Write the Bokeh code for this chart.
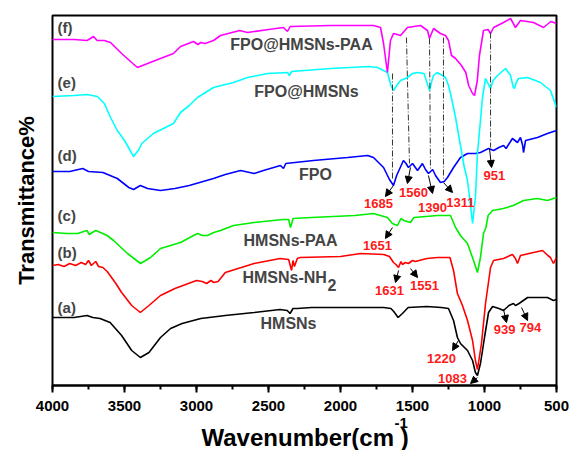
from bokeh.plotting import figure
from bokeh.models import Range1d, Label, Arrow, NormalHead, SingleIntervalTicker, FixedTicker, Title
from bokeh.embed import file_html
from bokeh.resources import INLINE

# ---- data: (wavenumber cm-1, offset transmittance) ----
curve_a = [(4000, 68), (3900, 68), (3850, 68), (3760, 70), (3720, 68), (3670, 67), (3600, 63), (3520, 50),
           (3450, 35), (3390, 28), (3330, 33), (3250, 48), (3180, 57), (3100, 62), (2970, 67), (2800, 70),
           (2600, 73), (2420, 76), (2370, 75), (2350, 72), (2330, 77), (2300, 77), (2200, 78), (1900, 78),
           (1700, 78), (1650, 77), (1630, 74), (1600, 68), (1570, 72), (1530, 78), (1400, 79), (1300, 78),
           (1250, 77), (1215, 65), (1188, 48), (1167, 42), (1118, 35), (1083, 25), (1063, 13), (1049, 10),
           (1028, 22), (1000, 48), (972, 73), (944, 79), (900, 77), (868, 75), (830, 80), (799, 82),
           (785, 80), (760, 82), (701, 88), (600, 88), (563, 88), (521, 85), (500, 86)]
curve_b = [(4000, 120), (3960, 121), (3920, 119), (3880, 122), (3840, 120), (3800, 123), (3770, 121),
           (3750, 125), (3730, 120), (3700, 124), (3680, 119), (3650, 118), (3620, 114), (3600, 110),
           (3560, 102), (3520, 93), (3450, 80), (3390, 73), (3330, 80), (3250, 90), (3150, 97), (3000, 105),
           (2960, 104), (2930, 102), (2900, 105), (2880, 103), (2850, 104), (2800, 113), (2600, 122),
           (2420, 127), (2360, 126), (2340, 115), (2330, 125), (2320, 119), (2300, 127), (2280, 128),
           (2000, 129), (1860, 132), (1700, 131), (1660, 129), (1632, 123), (1615, 121), (1597, 118),
           (1580, 124), (1570, 121), (1550, 123), (1528, 122), (1500, 125), (1480, 124), (1400, 127),
           (1326, 128), (1240, 128), (1215, 115), (1188, 92), (1153, 80), (1118, 65), (1083, 45), (1063, 25),
           (1049, 16), (1021, 42), (993, 82), (958, 118), (937, 125), (868, 127), (806, 131), (785, 127),
           (771, 122), (750, 130), (660, 133), (597, 135), (560, 130), (542, 128), (521, 122), (500, 128)]
curve_c = [(4000, 153), (3900, 152), (3826, 152), (3760, 155), (3745, 151), (3700, 155), (3667, 153),
           (3620, 150), (3576, 145), (3479, 132), (3389, 122), (3319, 128), (3250, 137), (3111, 143),
           (3020, 150), (2993, 152), (2960, 150), (2924, 150), (2880, 153), (2833, 155), (2743, 160),
           (2600, 163), (2400, 166), (2360, 166), (2347, 158), (2335, 164), (2330, 167), (2200, 168),
           (1900, 170), (1771, 172), (1674, 168), (1640, 162), (1604, 160), (1580, 167), (1560, 165),
           (1514, 163), (1490, 168), (1326, 170), (1236, 170), (1201, 158), (1167, 150), (1118, 142),
           (1076, 125), (1049, 113), (1028, 128), (1007, 152), (990, 158), (975, 170), (944, 175),
           (868, 177), (800, 180), (771, 182), (729, 185), (632, 187), (563, 185), (500, 188)]
curve_d = [(4000, 214), (3880, 214), (3790, 217), (3750, 214), (3650, 213), (3550, 207), (3470, 198),
           (3437, 196), (3390, 200), (3340, 197), (3250, 195), (3150, 197), (3050, 200), (2882, 207),
           (2800, 211), (2694, 215), (2600, 212), (2535, 215), (2417, 220), (2396, 217), (2380, 222),
           (2188, 225), (1951, 228), (1812, 230), (1771, 228), (1701, 218), (1660, 206), (1632, 200),
           (1610, 210), (1563, 225), (1545, 222), (1528, 218), (1500, 222), (1465, 215), (1431, 222),
           (1410, 216), (1389, 212), (1360, 216), (1340, 210), (1306, 203), (1280, 204), (1257, 208),
           (1215, 218), (1167, 228), (1118, 232), (1063, 232), (1028, 233), (972, 237), (937, 235),
           (900, 238), (868, 240), (850, 237), (806, 247), (771, 243), (750, 248), (735, 240), (729, 233),
           (715, 245), (632, 248), (563, 252), (500, 255)]
curve_e = [(4000, 289), (3850, 290), (3760, 291), (3688, 289), (3640, 282), (3597, 268), (3550, 255),
           (3500, 245), (3437, 229), (3400, 236), (3380, 242), (3300, 252), (3160, 262), (3111, 273),
           (3050, 280), (2993, 288), (2882, 298), (2743, 303), (2646, 308), (2507, 312), (2368, 313),
           (2355, 310), (2340, 314), (2069, 317), (1800, 319), (1743, 318), (1674, 313), (1650, 300),
           (1632, 295), (1600, 302), (1583, 305), (1535, 308), (1500, 312), (1465, 313), (1420, 312),
           (1400, 303), (1382, 295), (1365, 305), (1354, 310), (1330, 313), (1292, 310), (1271, 308),
           (1250, 300), (1236, 292), (1201, 268), (1167, 240), (1140, 218), (1118, 205), (1097, 180),
           (1083, 162), (1063, 188), (1049, 232), (1028, 265), (1014, 288), (993, 307), (975, 302),
           (958, 297), (940, 305), (910, 310), (854, 317), (819, 310), (800, 298), (792, 297), (780, 303),
           (764, 307), (701, 308), (611, 303), (542, 295), (500, 278)]
curve_f = [(4000, 346), (3850, 346), (3760, 345), (3715, 349), (3690, 345), (3640, 345), (3597, 343),
           (3520, 332), (3450, 323), (3410, 318), (3340, 322), (3250, 327), (3160, 332), (3111, 339),
           (3021, 344), (2990, 341), (2970, 343), (2940, 342), (2882, 345), (2833, 350), (2700, 355),
           (2646, 353), (2500, 356), (2396, 358), (2368, 354), (2350, 359), (2069, 360), (1771, 360),
           (1722, 358), (1701, 342), (1674, 313), (1653, 345), (1632, 352), (1583, 350), (1535, 358),
           (1444, 360), (1396, 355), (1382, 347), (1354, 357), (1306, 352), (1271, 350), (1250, 345),
           (1229, 330), (1201, 327), (1160, 320), (1130, 313), (1110, 300), (1083, 292), (1069, 290),
           (1050, 305), (1035, 330), (1007, 355), (975, 356), (958, 352), (937, 358), (868, 363),
           (819, 367), (800, 362), (785, 358), (750, 365), (660, 363), (590, 358), (540, 364), (500, 362)]

curves = [curve_a, curve_b, curve_c, curve_d, curve_e, curve_f]
colors = ["#000000", "#ff0000", "#00ee00", "#0000ff", "#00ffff", "#ff00ff"]
tags = ["(a)", "(b)", "(c)", "(d)", "(e)", "(f)"]
tag_y = [78, 133, 170, 230, 303, 358]
names = ["HMSNs", "HMSNs-NH", "HMSNs-PAA", "FPO", "FPO@HMSNs", "FPO@HMSNs-PAA"]
name_pos = [(2361, 62), (2681, 108), (2347, 145), (2174, 211), (2236, 294), (2271, 341)]

# peak labels: text, label position, arrow start, arrow end
peaks = [("1685", (1736, 182), (1632, 200), (1688, 189)),
         ("1560", (1493, 193), (1514, 218), (1535, 202)),
         ("1390", (1361, 178), (1389, 210), (1361, 192)),
         ("1311", (1167, 183), (1285, 203), (1222, 193)),
         ("951", (931, 210), (965, 237), (951, 218)),
         ("1651", (1743, 140), (1639, 158), (1688, 147)),
         ("1631", (1660, 95), (1597, 115), (1618, 103)),
         ("1551", (1417, 100), (1514, 117), (1465, 108)),
         ("1220", (1299, 27), (1181, 45), (1222, 35)),
         ("1083", (1222, 7), (1049, 8), (1097, 2)),
         ("939", (861, 56), (868, 76), (847, 63)),
         ("794", (681, 58), (743, 78), (701, 65))]
# dash-dot guide lines (x0, y0, x1, y1)
guides = [(1639, 312, 1639, 205), (1542, 348, 1521, 222), (1382, 347, 1375, 215),
          (1285, 348, 1285, 207), (958, 353, 958, 238)]

FONT = "Liberation Sans"

p = figure(width=569, height=450, x_range=Range1d(4000, 500), y_range=Range1d(0, 370),
           output_backend="svg", toolbar_location=None,
           min_border_left=52, min_border_right=13, min_border_top=15, min_border_bottom=65)
p.grid.visible = False
p.outline_line_color = "black"
p.outline_line_width = 2
p.background_fill_color = "white"
p.border_fill_color = "white"

ax = p.xaxis[0]
ax.ticker = SingleIntervalTicker(interval=500, num_minor_ticks=2)
ax.axis_line_width = 2
ax.major_tick_line_width = 2
ax.minor_tick_line_width = 2
ax.major_tick_in = 0
ax.major_tick_out = 7
ax.minor_tick_in = 0
ax.minor_tick_out = 4
ax.major_label_text_font = FONT
ax.major_label_text_font_style = "bold"
ax.major_label_text_font_size = "15px"
ax.major_label_text_color = "black"
ax.major_label_standoff = 8

ay = p.yaxis[0]
ay.ticker = FixedTicker(ticks=[])
ay.axis_line_color = None
ay.major_tick_line_color = None
ay.minor_tick_line_color = None
ay.axis_label = "Transmittance%"
ay.axis_label_text_font = FONT
ay.axis_label_text_font_style = "bold"
ay.axis_label_text_font_size = "22px"
ay.axis_label_text_color = "black"
ay.axis_label_standoff = 14

# x-axis title: superscript row and main row
p.add_layout(Title(text="-1", align="left", offset=342, standoff=4, text_font=FONT,
                   text_font_style="bold", text_font_size="15px", text_color="black"), "below")
p.add_layout(Title(text="Wavenumber(cm   )", align="left", offset=149, standoff=-16, text_font=FONT,
                   text_font_style="bold", text_font_size="24px", text_color="black"), "below")

for c, col in zip(curves, colors):
    p.line([w for w, v in c], [v for w, v in c], line_color=col, line_width=1.6)

for t, y in zip(tags, tag_y):
    p.add_layout(Label(x=3965, y=y, text=t, text_font=FONT, text_font_style="bold",
                       text_font_size="15px", text_align="left", text_baseline="middle"))

for n, (x, y) in zip(names, name_pos):
    align = "left" if n == "HMSNs-NH" else "center"
    p.add_layout(Label(x=x, y=y, text=n, text_font=FONT, text_font_style="bold",
                       text_font_size="16px", text_align=align, text_baseline="middle"))
p.add_layout(Label(x=2090, y=101, text="2", text_font=FONT, text_font_style="bold",
                   text_font_size="16px", text_align="left", text_baseline="middle"))

for x0, y0, x1, y1 in guides:
    p.segment(x0, y0, x1, y1, line_color="#333333", line_width=1, line_dash="6 2 1 2")

for txt, (lx, ly), (sx, sy), (ex, ey) in peaks:
    p.add_layout(Arrow(end=NormalHead(size=7, fill_color="black", line_color="black"),
                       x_start=sx, y_start=sy, x_end=ex, y_end=ey, line_width=1, line_color="black"))
    p.add_layout(Label(x=lx, y=ly, text=txt, text_font=FONT, text_font_style="bold",
                       text_font_size="13px", text_color="#ff1a1a", text_align="center",
                       text_baseline="middle"))

open("out.html", "w").write(file_html(p, INLINE))
